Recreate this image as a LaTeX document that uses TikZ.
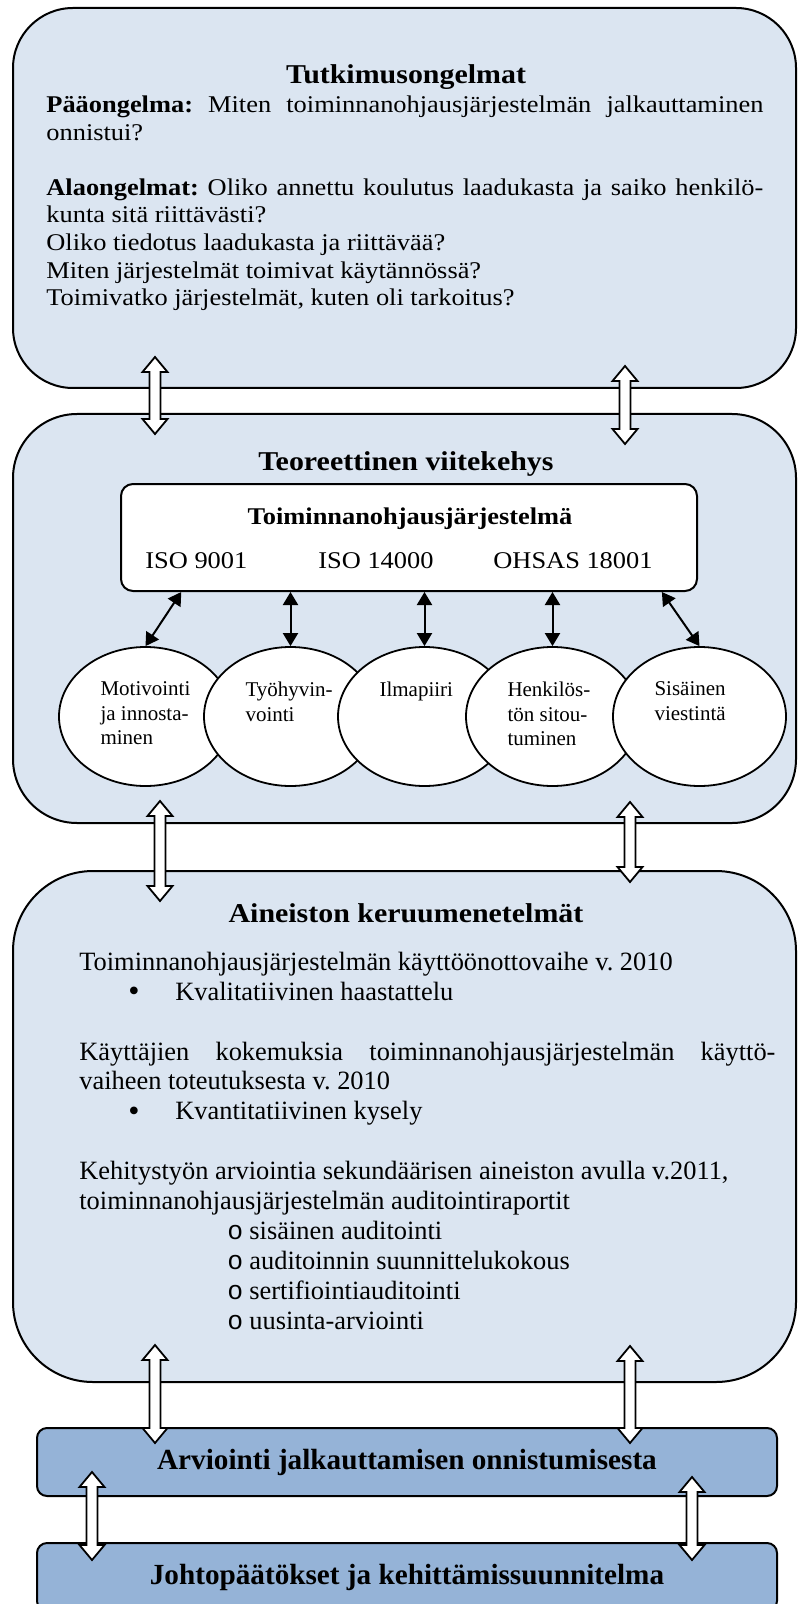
\documentclass[tikz,border=0pt]{standalone}
\usepackage{fontspec}
\setmainfont{Liberation Serif}
\setmonofont{Liberation Mono}
\newfontfamily\widefont{Liberation Serif}[FakeStretch=1.1]
\usepackage{tikz}
\usetikzlibrary{shapes.geometric, arrows.meta, positioning, calc}
\setlength{\parindent}{0pt}
\frenchspacing
\definecolor{paleblue}{HTML}{DBE5F1}
\definecolor{barblue}{HTML}{95B3D7}
\tikzstyle{panel} = [rectangle, draw=black, line width=1pt, fill=paleblue, minimum width=391.5pt]
\tikzstyle{bar} = [rectangle, rounded corners=5pt, draw=black, line width=1pt, fill=barblue, minimum width=370pt, minimum height=34pt, font=\fontsize{14.6}{16}\selectfont\bfseries]
\tikzstyle{title} = [anchor=base, inner sep=0pt, font=\widefont\fontsize{13.6}{16}\selectfont\bfseries]
\tikzstyle{factor} = [ellipse, draw=black, line width=0.9pt, fill=white, minimum width=86.5pt, minimum height=69.5pt, inner sep=0pt, font=\fontsize{10.5}{12.25}\selectfont]
\tikzstyle{link} = [line width=1pt, <->, >={Triangle[length=6.5pt, width=7.5pt]}]
\tikzstyle{hollow} = [draw=black, line width=0.9pt, fill=white, line join=miter]

% hollow up-down arrow, top tip #1, bottom tip #2
\newcommand{\flowarrow}[2]{%
  \draw[hollow] (#1) -- ++(12.5,15) -- ++(-7,0) -- ($(#2)+(5.5,-15)$) -- ++(7,0)
    -- (#2) -- ++(-12.5,-15) -- ++(7,0) -- ($(#1)+(-5.5,15)$) -- ++(-7,0) -- cycle;}
\newcommand{\factortext}[1]{\parbox[c][34.5pt][t]{45pt}{\raggedright #1}}
\newcommand{\dotitem}{\hspace*{24.5pt}\makebox[23.5pt][l]{\raisebox{-0.6pt}{\fontsize{16}{0}\selectfont\textbullet}}}
\newcommand{\ringitem}{\hspace*{74pt}\makebox[11pt][l]{\texttt{o}}}

\begin{document}
\begin{tikzpicture}[x=0.5pt, y=-0.5pt, every node/.style={font=\fontsize{12}{13.8}\selectfont}]
  \useasboundingbox (0,0) rectangle (798,1604);

  \node[panel, rounded corners=30pt, minimum height=190pt] (tutk) at (404.5,198) {};
  \node[panel, rounded corners=32pt, minimum height=204.5pt] (teor) at (404.5,618.5) {};
  \node[panel, rounded corners=40pt, minimum height=255.5pt] (aine) at (404.5,1126.5) {};
  \node[bar] (arvi) at (407,1462) {Arviointi jalkauttamisen onnistumisesta};
  \node[bar] (joht) at (407,1577) {Johtopäätökset ja kehittämissuunnitelma};

  % Tutkimusongelmat
  \node[title] (tutkotsikko) at (406,84) {Tutkimusongelmat};
  \node[anchor=north west, inner sep=0pt, text width=358.5pt, align=justify, font=\widefont\fontsize{12}{13.8}\selectfont] (tutkteksti) at (46,92.7)
    {\tolerance=10000\strut\textbf{Pääongelma:} Miten toiminnanohjausjärjestelmän jalkauttaminen\linebreak
     onnistui?\\[13.8pt]
     \textbf{Alaongelmat:} Oliko annettu koulutus laadukasta ja saiko henkilö-\linebreak
     kunta sitä riittävästi?\\
     Oliko tiedotus laadukasta ja riittävää?\\
     Miten järjestelmät toimivat käytännössä?\\
     Toimivatko järjestelmät, kuten oli tarkoitus?};

  % Teoreettinen viitekehys
  \node[title] (teorotsikko) at (406,471) {Teoreettinen viitekehys};
  \node[rectangle, rounded corners=6pt, draw=black, line width=1pt, fill=white, minimum width=288pt, minimum height=53.5pt] (tojs) at (409,537.5) {};
  \node[title, font=\widefont\fontsize{12}{13.8}\selectfont\bfseries] (tojsotsikko) at (410,524) {Toiminnanohjausjärjestelmä};
  \node[anchor=base west, inner sep=0pt, font=\widefont\fontsize{12}{13.8}\selectfont] (iso9) at (145,568) {ISO 9001};
  \node[anchor=base west, inner sep=0pt, font=\widefont\fontsize{12}{13.8}\selectfont] (iso14) at (318,568) {ISO 14000};
  \node[anchor=base west, inner sep=0pt, font=\widefont\fontsize{12}{13.8}\selectfont] (ohsas) at (493,568) {OHSAS 18001};

  \node[factor] (moti) at (145.5,716.5) {\factortext{Motivointi\\ja innosta-\\minen}};
  \node[factor] (tyoh) at (290.5,716.5) {\factortext{Työhyvin-\\vointi}};
  \node[factor] (ilma) at (424.5,716.5) {\factortext{Ilmapiiri}};
  \node[factor] (henk) at (552.5,716.5) {\factortext{Henkilös-\\tön sitou-\\tuminen}};
  \node[factor] (sisv) at (699.5,716.5) {\factortext{Sisäinen\\viestintä}};

  \draw[link] ($(tojs.south west)!0.106!(tojs.south east)$) -- (moti.north);
  \draw[link] (tyoh.north |- tojs.south) -- (tyoh.north);
  \draw[link] (ilma.north |- tojs.south) -- (ilma.north);
  \draw[link] (henk.north |- tojs.south) -- (henk.north);
  \draw[link] ($(tojs.south west)!0.9375!(tojs.south east)$) -- (sisv.north);

  % Aineiston keruumenetelmät
  \node[title] (aineotsikko) at (406,922) {Aineiston keruumenetelmät};
  \node[anchor=north west, inner sep=0pt, text width=348pt, align=justify, font=\fontsize{13.2}{14.95}\selectfont] (aineteksti) at (79,949)
    {\tolerance=10000\strut Toiminnanohjausjärjestelmän käyttöönottovaihe v. 2010\\
     \dotitem Kvalitatiivinen haastattelu\\[14.95pt]
     Käyttäjien kokemuksia toiminnanohjausjärjestelmän käyttö-\linebreak
     vaiheen toteutuksesta v. 2010\\
     \dotitem Kvantitatiivinen kysely\\[14.95pt]
     Kehitystyön arviointia sekundäärisen aineiston avulla v.2011,\\
     toiminnanohjausjärjestelmän auditointiraportit\\
     \ringitem sisäinen auditointi\\
     \ringitem auditoinnin suunnittelukokous\\
     \ringitem sertifiointiauditointi\\
     \ringitem uusinta-arviointi};

  % hollow arrows between the stages
  \coordinate (v1a) at (155,357);  \coordinate (v1b) at (155,434);
  \coordinate (v2a) at (625,366);  \coordinate (v2b) at (625,444);
  \coordinate (v3a) at (160,801);  \coordinate (v3b) at (160,901);
  \coordinate (v4a) at (630,802);  \coordinate (v4b) at (630,882);
  \coordinate (v5a) at (155,1345); \coordinate (v5b) at (155,1443);
  \coordinate (v6a) at (630,1346); \coordinate (v6b) at (630,1443);
  \coordinate (v7a) at (92,1472);  \coordinate (v7b) at (92,1560);
  \coordinate (v8a) at (692,1477); \coordinate (v8b) at (692,1560);
  \foreach \i in {1,...,8} {\flowarrow{v\i a}{v\i b}}
\end{tikzpicture}
\end{document}
